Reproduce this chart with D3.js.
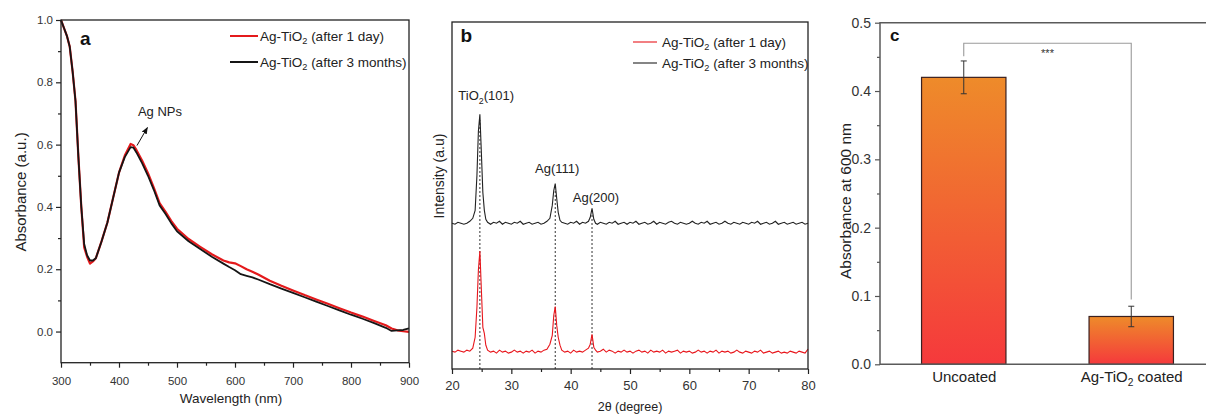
<!DOCTYPE html>
<html><head><meta charset="utf-8">
<script src="https://cdn.jsdelivr.net/npm/d3@7"></script>
<style>
body{margin:0;background:#fff}
svg{display:block;font-family:"Liberation Sans",Arial,sans-serif}
</style></head><body>
<svg id="chart" width="1206" height="414"></svg>
<script>
// ---------- Panel a: UV-Vis ----------
const uvWavelength = [300,305,310,315,320,325,330,335,340,345,350,355,360,370,380,390,400,410,420,425,430,440,450,460,470,480,490,500,520,540,560,580,590,600,610,620,630,640,660,680,700,720,740,760,780,800,820,840,860,870,880,890,900];
const uvAfter3Months = [1.0,0.975,0.95,0.915,0.835,0.74,0.56,0.40,0.28,0.245,0.228,0.228,0.235,0.29,0.35,0.43,0.51,0.56,0.592,0.59,0.575,0.54,0.50,0.455,0.405,0.378,0.348,0.322,0.29,0.265,0.24,0.218,0.207,0.197,0.184,0.179,0.174,0.167,0.152,0.138,0.124,0.11,0.096,0.082,0.068,0.054,0.041,0.027,0.012,0.002,0.004,0.005,0.01];
const uvAfter1Day = [1.0,0.975,0.95,0.915,0.835,0.74,0.56,0.40,0.27,0.24,0.218,0.225,0.235,0.29,0.35,0.43,0.51,0.565,0.602,0.598,0.583,0.548,0.508,0.462,0.412,0.385,0.355,0.33,0.297,0.272,0.248,0.228,0.222,0.219,0.21,0.20,0.192,0.183,0.163,0.147,0.132,0.117,0.103,0.089,0.075,0.061,0.048,0.034,0.02,0.01,0.004,0.001,-0.001];
const aXTicks = [300,400,500,600,700,800,900];
const aXMinor = [350,450,550,650,750,850];
const aYTicks = [0.0,0.2,0.4,0.6,0.8,1.0];
const aYMinor = [0.1,0.3,0.5,0.7,0.9];

// ---------- Panel b: XRD ----------
const xrdAngle = [20,20.5,21,21.5,22,22.5,23,23.5,
  23.9,24.2,24.45,24.7,24.95,25.2,25.45,25.7,26.0,
  26.5,27,27.5,28,28.5,29,29.5,30,30.5,31,31.5,32,32.5,33,33.5,34,34.5,35,35.5,36,
  36.5,36.9,37.15,37.4,37.65,37.9,38.2,
  38.5,39,39.5,40,40.5,41,41.5,42,42.5,43,
  43.3,43.6,43.9,44.2,
  44.5,45,45.5,46,46.5,47,47.5,48,48.5,49,49.5,50,50.5,51,51.5,52,52.5,53,53.5,54,54.5,55,55.5,56,56.5,57,57.5,58,58.5,59,59.5,60,60.5,61,61.5,62,62.5,63,63.5,64,64.5,65,65.5,66,66.5,67,67.5,68,68.5,69,69.5,70,70.5,71,71.5,72,72.5,73,73.5,74,74.5,75,75.5,76,76.5,77,77.5,78,78.5,79,79.5,80];
const xrdAfter1Day = [18,17,19,18,17,19,18,21,
  32,62,100,119,80,42,36,24,19,
  17,18,16,19,17,18,16,17,19,17,18,16,18,17,19,16,18,17,19,20,
  25,34,54,63,44,32,24,
  19,17,18,16,19,17,18,17,19,21,
  25,35,22,19,
  17,18,20,17,19,18,16,18,17,19,17,18,16,18,19,17,18,16,19,17,18,17,19,16,18,17,18,19,16,18,17,18,16,17,19,17,18,16,18,17,19,16,18,17,18,16,17,19,17,16,18,17,16,18,17,19,16,17,18,16,17,18,16,17,16,18,17,16,18,17,16,20];
const xrdAfter3Months = [147,146,148,147,146,147,149,152,
  160,195,240,257,218,178,160,151,148,
  146,148,147,149,146,148,147,146,148,147,149,146,147,148,146,147,148,146,147,149,
  152,165,180,187,172,158,150,
  148,147,146,148,147,149,146,148,147,149,
  153,162,151,147,
  146,148,147,146,148,147,149,146,147,148,146,148,147,149,146,147,148,146,147,149,146,148,147,146,148,149,147,146,148,147,146,147,149,147,146,148,147,149,146,147,148,146,147,149,147,146,148,147,146,148,147,146,148,147,149,146,147,148,146,147,149,146,147,148,146,147,148,146,147,148,146,147];
const xrdPeakAngles = [24.7,37.4,43.6];
const xrdPeakLabels = ["TiO2(101)","Ag(111)","Ag(200)"];
const bXTicks = [20,30,40,50,60,70,80];
const bXMinor = [25,35,45,55,65,75];

// ---------- Panel c: bars ----------
const barCategories = ["Uncoated","Ag-TiO2 coated"];
const barValues = [0.42,0.07];
const barErrors = [0.024,0.015];
const cYTicks = [0.0,0.1,0.2,0.3,0.4,0.5];
const cYMinor = [0.05,0.15,0.25,0.35,0.45];

const svg = d3.select("#chart");
svg.append("rect").attr("width",1206).attr("height",414).attr("fill","#fff");

// rich text with "2" subscripts after TiO
function richText(sel, str, fs){
  const parts = str.split(/(?<=TiO)(2)/);
  sel.text(null);
  let prevSub = false;
  parts.forEach((p,i)=>{
    if(p==="") return;
    const isSub = (p==="2" && i>0 && parts[i-1].endsWith("TiO"));
    const t = sel.append("tspan").text(p);
    if(isSub){ t.attr("font-size", fs*0.68).attr("dy", fs*0.28); prevSub = true; }
    else if(prevSub){ t.attr("dy", -fs*0.28); prevSub = false; }
  });
}
function styleAxis(g, fs, col, tcol){
  g.select(".domain").remove();
  g.selectAll(".tick line").attr("stroke",col).attr("stroke-width",1.2);
  g.selectAll(".tick text").attr("font-size",fs).attr("fill",tcol).attr("font-family","Liberation Sans, Arial, sans-serif");
}

// ================= Panel a =================
const aX = d3.scaleLinear().domain([300,900]).range([61,409]);
const aY = d3.scaleLinear().domain([-0.1,1.0]).range([362.7,20]);
const gA = svg.append("g");
const lineA = d3.line().x(d=>aX(d[0])).y(d=>aY(d[1]));
gA.append("path").attr("d", lineA(uvWavelength.map((w,i)=>[w,uvAfter1Day[i]])))
  .attr("fill","none").attr("stroke","#e41a1c").attr("stroke-width",2.2).attr("stroke-linejoin","round");
gA.append("path").attr("d", lineA(uvWavelength.map((w,i)=>[w,uvAfter3Months[i]])))
  .attr("fill","none").attr("stroke","#151515").attr("stroke-width",1.8).attr("stroke-linejoin","round");
styleAxis(gA.append("g").attr("transform","translate(0,362.7)")
  .call(d3.axisBottom(aX).tickValues(aXTicks).tickSize(5).tickPadding(9).tickFormat(d3.format("d"))),11.5,"#222","#333");
styleAxis(gA.append("g").attr("transform","translate(0,362.7)")
  .call(d3.axisBottom(aX).tickValues(aXMinor).tickSize(3).tickFormat("")),11.5,"#222","#333");
styleAxis(gA.append("g").attr("transform","translate(61,0)")
  .call(d3.axisLeft(aY).tickValues(aYTicks).tickSize(5).tickPadding(3).tickFormat(d3.format(".1f"))),11.5,"#222","#333");
styleAxis(gA.append("g").attr("transform","translate(61,0)")
  .call(d3.axisLeft(aY).tickValues(aYMinor).tickSize(3).tickFormat("")),11.5,"#222","#333");
gA.append("rect").attr("x",aX(300)).attr("y",aY(1.0)).attr("width",aX(900)-aX(300)).attr("height",aY(-0.1)-aY(1.0))
  .attr("fill","none").attr("stroke","#222").attr("stroke-width",1.3);
gA.append("text").attr("x",80).attr("y",45).attr("font-size",19).attr("font-weight","bold").attr("fill","#111").text("a");
// legend a
[["#e41a1c","Ag-TiO2 (after 1 day)",36],["#151515","Ag-TiO2 (after 3 months)",62]].forEach(([c,t,y])=>{
  gA.append("line").attr("x1",230).attr("x2",258).attr("y1",y).attr("y2",y).attr("stroke",c).attr("stroke-width",2);
  richText(gA.append("text").attr("x",260).attr("y",y+4.5).attr("font-size",13.5).attr("fill","#222"), t, 13.5);
});
// Ag NPs annotation
svg.append("defs").append("marker").attr("id","arr").attr("viewBox","0 0 10 10").attr("refX",9).attr("refY",5)
  .attr("markerWidth",7).attr("markerHeight",7).attr("orient","auto")
  .append("path").attr("d","M0,1 L10,5 L0,9 Z").attr("fill","#111");
gA.append("line").attr("x1",aX(431)).attr("y1",aY(0.597)).attr("x2",aX(449)).attr("y2",aY(0.655))
  .attr("stroke","#111").attr("stroke-width",1).attr("marker-end","url(#arr)");
gA.append("text").attr("x",aX(432.6)).attr("y",aY(0.693)).attr("font-size",13).attr("fill","#222").text("Ag NPs");
gA.append("text").attr("transform","translate(21,192) rotate(-90)").attr("dy","0.35em").attr("text-anchor","middle")
  .attr("font-size",15).attr("fill","#222").text("Absorbance (a.u.)");
gA.append("text").attr("x",231).attr("y",403).attr("text-anchor","middle").attr("font-size",13.5).attr("fill","#222").text("Wavelength (nm)");

// ================= Panel b =================
const bX = d3.scaleLinear().domain([20,80]).range([452,808]);
const bY = d3.scaleLinear().domain([0,350]).range([369,22]);
const gB = svg.append("g");
const lineB = d3.line().x(d=>bX(d[0])).y(d=>bY(d[1]));
// dashed guide lines
xrdPeakAngles.forEach(a=>{
  const i = xrdAngle.indexOf(a);
  gB.append("line").attr("x1",bX(a)).attr("x2",bX(a)).attr("y1",bY(0)).attr("y2",bY(xrdAfter3Months[i]-6))
    .attr("stroke","#333").attr("stroke-width",1).attr("stroke-dasharray","2,2");
});
gB.append("path").attr("d", lineB(xrdAngle.map((a,i)=>[a,xrdAfter1Day[i]])))
  .attr("fill","none").attr("stroke","#e8161c").attr("stroke-width",1.1);
gB.append("path").attr("d", lineB(xrdAngle.map((a,i)=>[a,xrdAfter3Months[i]])))
  .attr("fill","none").attr("stroke","#222").attr("stroke-width",1.1);
styleAxis(gB.append("g").attr("transform","translate(0,369)")
  .call(d3.axisBottom(bX).tickValues(bXTicks).tickSize(5).tickPadding(7).tickFormat(d3.format("d"))),13,"#222","#333");
styleAxis(gB.append("g").attr("transform","translate(0,369)")
  .call(d3.axisBottom(bX).tickValues(bXMinor).tickSize(3).tickFormat("")),13,"#222","#333");
gB.append("rect").attr("x",bX(20)).attr("y",bY(350)).attr("width",bX(80)-bX(20)).attr("height",bY(0)-bY(350))
  .attr("fill","none").attr("stroke","#222").attr("stroke-width",1.3);
gB.append("text").attr("x",460.5).attr("y",41.7).attr("font-size",19).attr("font-weight","bold").attr("fill","#111").text("b");
[["#e8161c","Ag-TiO2 (after 1 day)",42],["#222","Ag-TiO2 (after 3 months)",63]].forEach(([c,t,y])=>{
  gB.append("line").attr("x1",633).attr("x2",657).attr("y1",y).attr("y2",y).attr("stroke",c).attr("stroke-width",1.1);
  richText(gB.append("text").attr("x",662).attr("y",y+4.5).attr("font-size",13.5).attr("fill","#222"), t, 13.5);
});
const peakLabelPos = [[21.06,271],[34.0,197.5],[40.35,168.8]];
xrdPeakLabels.forEach((t,i)=>{
  richText(gB.append("text").attr("x",bX(peakLabelPos[i][0])).attr("y",bY(peakLabelPos[i][1])).attr("font-size",13).attr("fill","#222"), t, 13);
});
gB.append("text").attr("transform","translate(439,176) rotate(-90)").attr("dy","0.35em").attr("text-anchor","middle")
  .attr("font-size",14).attr("fill","#222").text("Intensity (a.u)");
gB.append("text").attr("x",630).attr("y",411).attr("text-anchor","middle").attr("font-size",12.5).attr("fill","#222").text("2θ (degree)");

// ================= Panel c =================
const cX = d3.scalePoint().domain(barCategories).range([880,1215]).padding(0.5);
const cY = d3.scaleLinear().domain([0,0.5]).range([364.3,22.7]);
const gC = svg.append("g");
const grad = svg.select("defs").append("linearGradient").attr("id","barGrad").attr("x1",0).attr("y1",0).attr("x2",0).attr("y2",1);
grad.append("stop").attr("offset","0%").attr("stop-color","#ee8b2a");
grad.append("stop").attr("offset","100%").attr("stop-color","#f5393c");
const bw = 84.4;
gC.selectAll("rect.bar").data(barCategories).join("rect").attr("class","bar")
  .attr("x",d=>cX(d)-bw/2).attr("y",(d,i)=>cY(barValues[i])).attr("width",bw)
  .attr("height",(d,i)=>cY(0)-cY(barValues[i])).attr("fill","url(#barGrad)").attr("stroke","#3a2020").attr("stroke-width",1.2);
barCategories.forEach((d,i)=>{
  const x = cX(d), t = cY(barValues[i]+barErrors[i]), b = cY(barValues[i]-barErrors[i]);
  gC.append("path").attr("d",`M${x},${t}V${b}M${x-3},${t}H${x+3}M${x-3},${b}H${x+3}`).attr("stroke","#333").attr("stroke-width",1).attr("fill","none");
});
// significance bracket
gC.append("path").attr("d",`M${cX(barCategories[0])},${cY(0.451)}V${cY(0.47)}H${cX(barCategories[1])}V${cY(0.095)}`)
  .attr("fill","none").attr("stroke","#9a9a9a").attr("stroke-width",1.1);
gC.append("text").attr("x",(cX(barCategories[0])+cX(barCategories[1]))/2).attr("y",57).attr("text-anchor","middle")
  .attr("font-size",11).attr("fill","#333").text("***");
styleAxis(gC.append("g").attr("transform","translate(880,0)")
  .call(d3.axisLeft(cY).tickValues(cYTicks).tickSize(5).tickPadding(4).tickFormat(d3.format(".1f"))),14,"#555","#333");
styleAxis(gC.append("g").attr("transform","translate(880,0)")
  .call(d3.axisLeft(cY).tickValues(cYMinor).tickSize(3).tickFormat("")),14,"#555","#333");
const cBottom = gC.append("g").attr("transform","translate(0,364.3)").call(d3.axisBottom(cX).tickSize(0).tickPadding(7));
styleAxis(cBottom,15,"#555","#222");
cBottom.selectAll(".tick text").each(function(d){ richText(d3.select(this), d, 15); });
gC.append("path").attr("d",`M1215,${cY(0.5)}H880V${cY(0)}H1215`).attr("fill","none").attr("stroke","#5a5a5a").attr("stroke-width",1.5);
gC.append("text").attr("x",890).attr("y",40.7).attr("font-size",17).attr("font-weight","bold").attr("fill","#111").text("c");
gC.append("text").attr("transform","translate(846,201) rotate(-90)").attr("dy","0.35em").attr("text-anchor","middle")
  .attr("font-size",15.5).attr("fill","#222").text("Absorbance at 600 nm");
</script>
</body></html>
